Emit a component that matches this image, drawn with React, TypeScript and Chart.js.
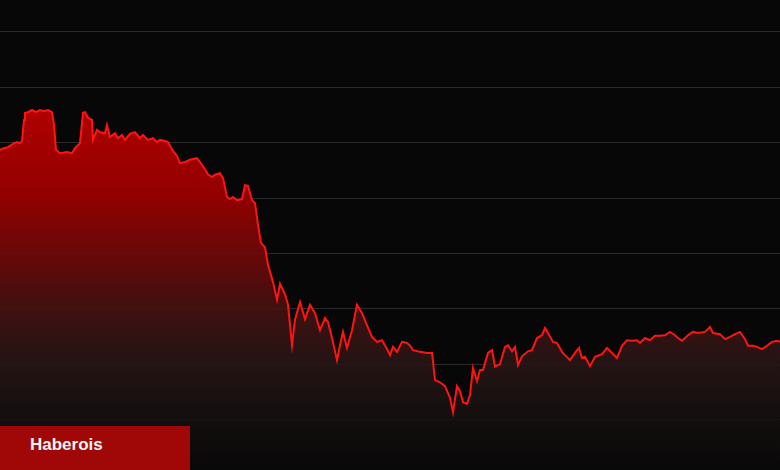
import React, { useEffect, useRef } from "react";
import { Chart, registerables } from "chart.js";

Chart.register(...registerables);

// time index (trading sessions) and index level
const days = [
  0, 4, 8, 13, 17, 20, 22, 24, 25, 28, 32, 36, 40, 44, 48, 52, 54, 56, 60, 67,
  72, 75, 80, 83, 85, 88, 92, 93, 97, 100, 105, 107, 110, 115, 118, 122, 125, 130, 135, 140,
  143, 148, 153, 157, 160, 165, 168, 173, 177, 180, 185, 190, 197, 200, 205, 208, 212, 215, 220, 223,
  227, 230, 233, 237, 242, 245, 248, 252, 255, 258, 261, 265, 268, 273, 277, 280, 285, 288, 292, 295,
  300, 305, 310, 315, 320, 325, 328, 332, 337, 340, 343, 347, 352, 357, 362, 367, 372, 377, 382, 387,
  390, 393, 397, 402, 407, 410, 413, 420, 427, 432, 435, 440, 445, 450, 453, 457, 460, 463, 467, 470,
  473, 477, 480, 483, 488, 492, 495, 500, 505, 508, 512, 515, 518, 522, 528, 532, 537, 542, 545, 548,
  553, 557, 562, 565, 570, 575, 579, 582, 585, 590, 595, 602, 607, 612, 617, 622, 627, 632, 637, 640,
  645, 650, 655, 660, 665, 670, 675, 678, 682, 688, 693, 698, 705, 710, 713, 720, 725, 730, 735, 740,
  745, 748, 753, 757, 762, 767, 772, 777, 780,
];

const levels = [
  58.7, 59.0, 59.2, 59.8, 60.1, 59.9, 60.3, 64.1, 65.4, 65.5, 65.9, 65.5, 65.9, 65.7, 65.9, 65.5, 63.2, 58.7, 58.1, 58.3,
  58.1, 59.0, 59.9, 65.4, 65.5, 64.5, 64.1, 60.5, 62.3, 61.9, 61.7, 63.2, 61.0, 61.7, 60.8, 61.4, 60.5, 61.6, 61.9, 60.8,
  61.4, 60.5, 60.8, 60.1, 60.5, 60.3, 60.1, 58.5, 57.6, 56.3, 56.5, 56.9, 57.2, 56.5, 55.2, 54.3, 53.8, 54.2, 54.5, 53.6,
  50.2, 49.8, 50.2, 49.6, 49.8, 52.3, 52.2, 49.6, 49.1, 45.1, 41.9, 41.1, 37.9, 34.8, 31.6, 34.5, 32.6, 30.7, 23.4, 28.0,
  31.2, 28.1, 30.7, 29.2, 26.1, 28.3, 27.6, 24.7, 20.7, 23.4, 25.8, 22.9, 26.1, 30.7, 29.2, 27.0, 24.9, 24.0, 24.3, 22.7,
  21.6, 23.1, 22.2, 24.0, 23.8, 23.3, 22.5, 22.2, 22.0, 22.0, 17.1, 16.7, 16.0, 13.9, 11.3, 16.0, 15.1, 13.1, 12.8, 14.4,
  19.3, 16.9, 18.9, 18.9, 22.0, 22.5, 19.5, 20.0, 23.1, 23.4, 22.3, 23.1, 19.8, 21.4, 22.3, 22.5, 24.7, 25.2, 26.5, 25.6,
  24.0, 23.8, 22.2, 21.6, 20.7, 22.0, 22.9, 21.1, 21.3, 19.6, 21.3, 21.8, 22.9, 22.0, 21.1, 23.3, 24.3, 24.2, 24.3, 23.8,
  24.7, 24.3, 25.1, 25.1, 25.2, 25.8, 25.2, 24.7, 24.2, 25.2, 25.8, 25.6, 25.8, 26.7, 25.6, 25.4, 24.5, 24.9, 25.4, 25.8,
  24.5, 23.3, 23.3, 23.1, 22.7, 23.3, 24.0, 24.2, 24.0,
];

// horizontal guide levels
const gridLevels = [10, 20, 30, 40, 50, 60, 70, 80];
const yMin = 0.85;
const yMax = 85.78;
const xMin = 0;
const xMax = 780;
const badgeText = "Haberois";

export default function App() {
  const canvasRef = useRef<HTMLCanvasElement | null>(null);

  useEffect(() => {
    const canvas = canvasRef.current;
    if (!canvas) return;
    const chart = new Chart(canvas, {
      type: "line",
      data: {
        datasets: [
          {
            data: days.map((d, i) => ({ x: d, y: levels[i] })),
            borderColor: "#ff1414",
            borderWidth: 2,
            pointRadius: 0,
            tension: 0,
            fill: "start",
            backgroundColor: (ctx: any) => {
              const { chart } = ctx;
              const area = chart.chartArea;
              if (!area) return "rgba(170,0,0,0.9)";
              const g = chart.ctx.createLinearGradient(0, area.top, 0, area.bottom);
              g.addColorStop(0.0, "rgba(185,0,0,1)");
              g.addColorStop(0.22, "rgba(178,0,0,1)");
              g.addColorStop(0.42, "rgba(150,0,0,0.97)");
              g.addColorStop(0.55, "rgba(112,10,10,0.9)");
              g.addColorStop(0.66, "rgba(72,18,18,0.85)");
              g.addColorStop(0.77, "rgba(42,22,22,0.85)");
              g.addColorStop(0.89, "rgba(22,16,16,0.85)");
              g.addColorStop(1.0, "rgba(10,10,10,0.9)");
              return g;
            },
          },
        ],
      },
      options: {
        animation: false,
        responsive: false,
        maintainAspectRatio: false,
        layout: { padding: 0 },
        plugins: {
          legend: { display: false },
          tooltip: { enabled: false },
        },
        scales: {
          x: {
            type: "linear",
            min: xMin,
            max: xMax,
            display: false,
          },
          y: {
            type: "linear",
            min: yMin,
            max: yMax,
            afterBuildTicks: (scale: any) => {
              scale.ticks = gridLevels.map((v) => ({ value: v }));
            },
            ticks: { display: false },
            border: { display: false },
            grid: {
              color: "rgba(255,255,255,0.14)",
              lineWidth: 1,
              drawTicks: false,
            },
          },
        },
      },
    });
    return () => chart.destroy();
  }, []);

  return (
    <div
      style={{
        position: "fixed",
        left: 0,
        top: 0,
        width: 780,
        height: 470,
        background: "#070707",
        overflow: "hidden",
      }}
    >
      <canvas ref={canvasRef} width={780} height={470} style={{ display: "block" }} />
      <div
        style={{
          position: "absolute",
          left: 0,
          top: 426,
          width: 190,
          height: 44,
          background: "#a00808",
          color: "#f4f4f4",
          fontFamily: "'Liberation Sans', Arial, sans-serif",
          fontWeight: 700,
          fontSize: 17,
          lineHeight: "38px",
          paddingLeft: 30,
          boxSizing: "border-box",
        }}
      >
        {badgeText}
      </div>
    </div>
  );
}
